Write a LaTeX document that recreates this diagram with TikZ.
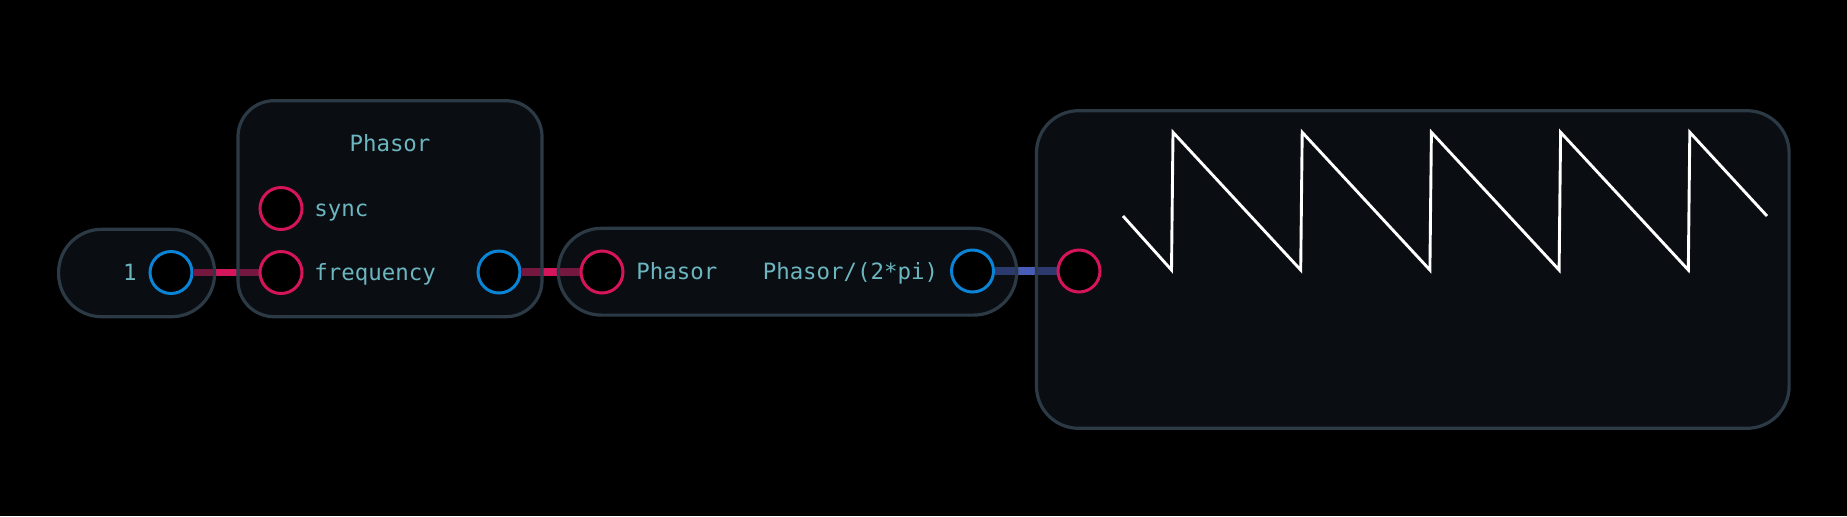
\documentclass[tikz,border=0pt]{standalone}
\usepackage{fontspec}
\setmonofont{DejaVu Sans Mono}
\pgfdeclarelayer{bg}
\pgfdeclarelayer{wires}
\pgfsetlayers{bg,wires,main}
\definecolor{boxfill}{RGB}{20,26,36}
\definecolor{boxline}{RGB}{44,58,70}
\definecolor{txt}{RGB}{108,182,192}
\definecolor{portred}{RGB}{214,20,90}
\definecolor{portblue}{RGB}{10,132,214}
\definecolor{wirered}{RGB}{214,22,92}
\definecolor{wireblue}{RGB}{72,92,184}
\tikzset{
  modbox/.style={draw=boxline, line width=1.6pt, fill=boxfill,
    fill opacity=0.5, draw opacity=1, inner sep=0},
  inport/.style={circle, draw=portred, line width=1.5pt, fill=black,
    minimum size=21pt, inner sep=0},
  outport/.style={inport, draw=portblue},
  lbl/.style={text=txt, font=\ttfamily\fontsize{11.2}{14}\selectfont,
    inner sep=0},
  redwire/.style={draw=wirered, line width=3.6pt},
  bluewire/.style={draw=wireblue, line width=3.6pt},
  saw/.style={draw=white, line width=1.45pt},
}

\begin{document}
\begin{tikzpicture}[x=0.5pt,y=-0.5pt]
  \begin{pgfonlayer}{bg}
    \fill[black] (0,0) rectangle (1847,516);
  \end{pgfonlayer}
  \useasboundingbox (0,0) rectangle (1847,516);
  % boxes
  \node[modbox, minimum width=78pt, minimum height=43.7pt,
       rounded corners=21.5pt] (const) at (136.6,273) {};
  \node[modbox, minimum width=152pt, minimum height=108pt,
       rounded corners=18pt] (phasor) at (390,208.7) {};
  \node[modbox, minimum width=229.2pt, minimum height=43.4pt,
       rounded corners=21.5pt] (expr) at (787.5,271.7) {};
  \node[modbox, minimum width=376.3pt, minimum height=158.8pt,
       rounded corners=21pt] (plot) at (1412.8,269.5) {};
  % ports
  \node[outport] (one) at (171,272.5) {};
  \node[inport] (sync) at (281,208.5) {};
  \node[inport] (freq) at (281,272.5) {};
  \node[outport] (phase) at (499,272) {};
  \node[inport] (ein) at (602,272) {};
  \node[outport] (eout) at (972.5,271) {};
  \node[inport] (pin) at (1079,271) {};
  % labels
  \node[lbl, anchor=east] (onelbl) at (137,272.7) {1};
  \node[lbl, anchor=base] (title) at (390,151.7) {Phasor};
  \node[lbl, anchor=base west] (synclbl) at (314,216) {sync};
  \node[lbl, anchor=base west] (freqlbl) at (314,280) {frequency};
  \node[lbl, anchor=base west] (inlbl) at (636,279.3) {Phasor};
  \node[lbl, anchor=base east] (outlbl) at (938.5,279.3) {Phasor/(2*pi)};
  % wires
  \begin{pgfonlayer}{wires}
    \draw[redwire] (one) -- (freq);
    \draw[redwire] (phase) -- (ein);
    \draw[bluewire] (eout) -- (pin);
  \end{pgfonlayer}
  % sawtooth
  \draw[saw] (1123,216)
    foreach \i in {0,...,4} {
      -- ({1171.5+129.2*\i},270) -- ({1173+129.2*\i},132.3)
    } -- (1767,216);
\end{tikzpicture}
\end{document}
